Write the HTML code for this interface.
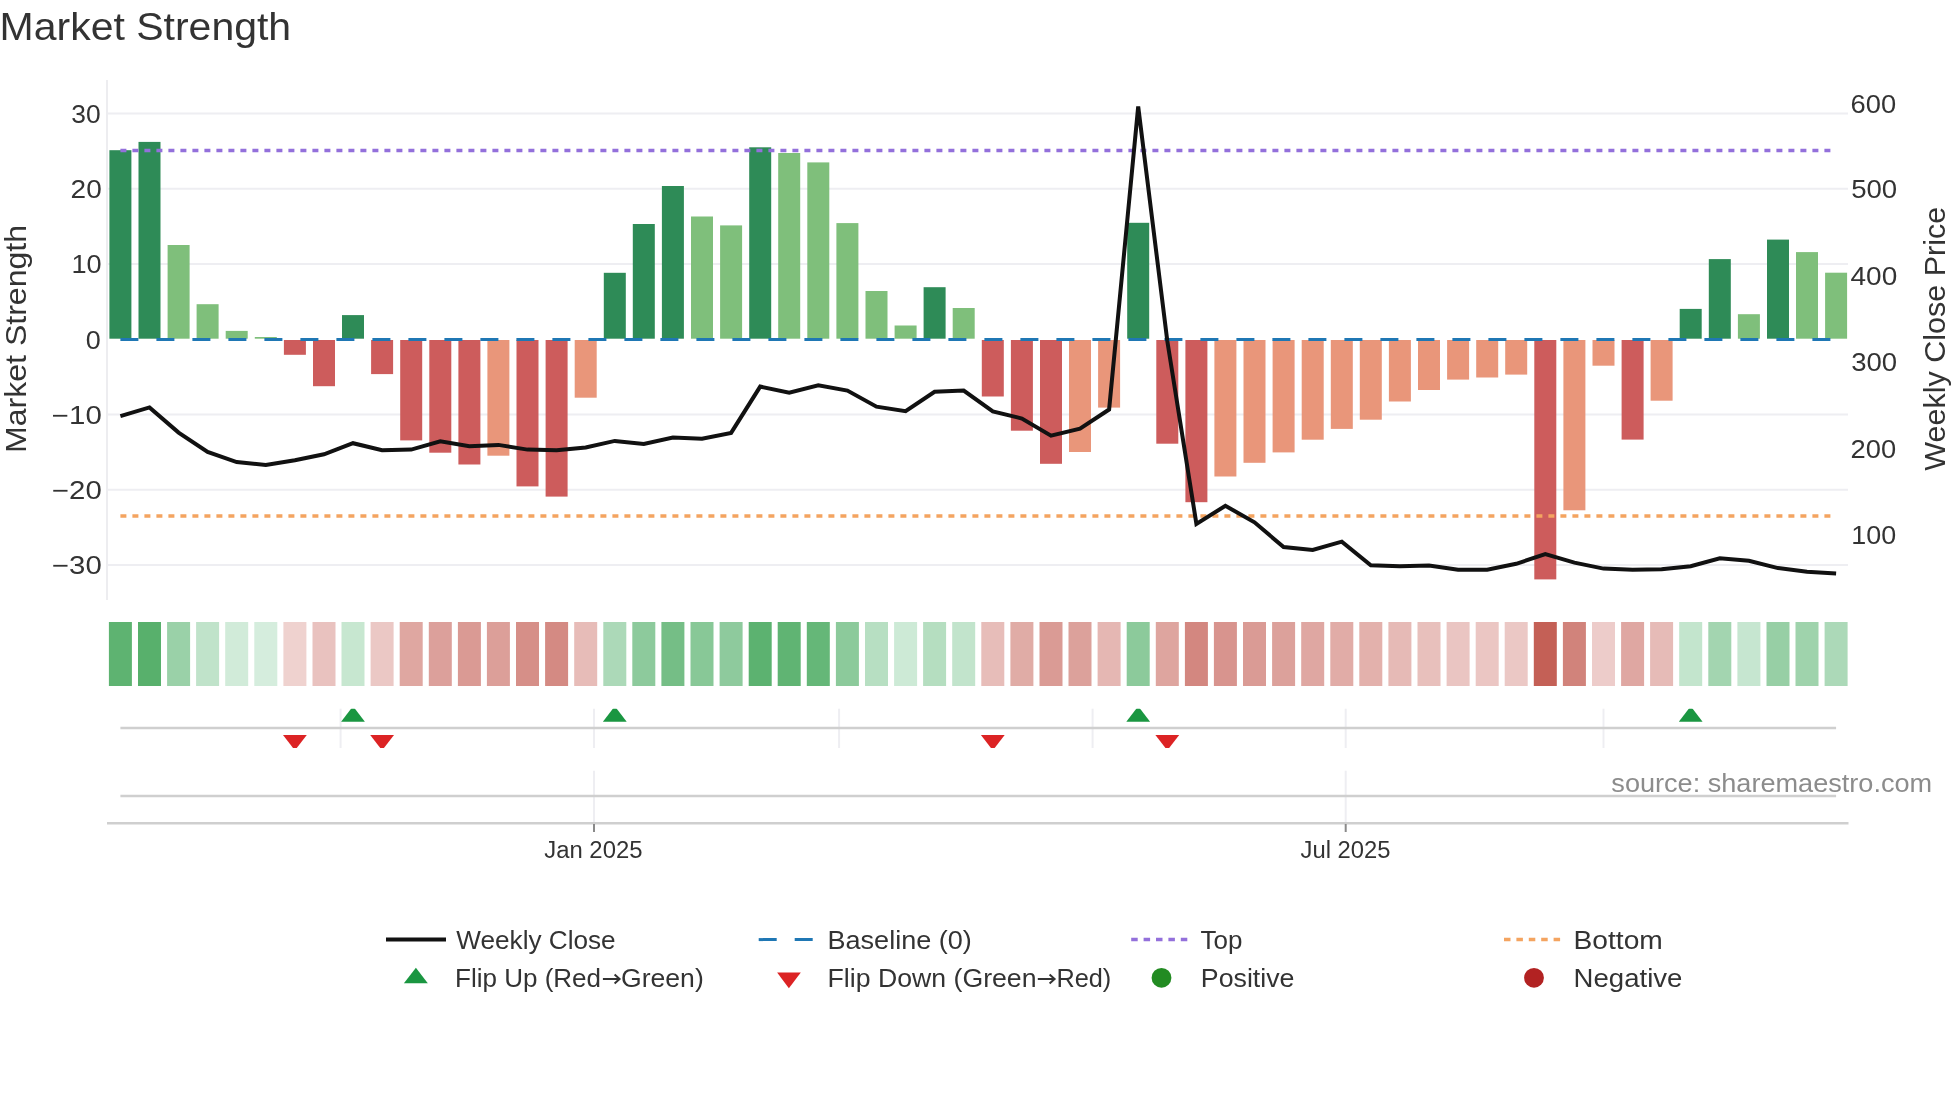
<!DOCTYPE html><html><head><meta charset="utf-8"><style>html,body{margin:0;padding:0;background:#fff;overflow:hidden}svg{display:block;will-change:transform}text{font-family:"Liberation Sans", sans-serif;fill:#333}</style></head><body>
<svg width="1960" height="1102" viewBox="0 0 1960 1102">
<rect x="0" y="0" width="1960" height="1102" fill="#fff"/>
<line x1="107" y1="113.6" x2="1848" y2="113.6" stroke="#eeeef2" stroke-width="2"/>
<line x1="107" y1="188.8" x2="1848" y2="188.8" stroke="#eeeef2" stroke-width="2"/>
<line x1="107" y1="264.1" x2="1848" y2="264.1" stroke="#eeeef2" stroke-width="2"/>
<line x1="107" y1="414.5" x2="1848" y2="414.5" stroke="#eeeef2" stroke-width="2"/>
<line x1="107" y1="489.8" x2="1848" y2="489.8" stroke="#eeeef2" stroke-width="2"/>
<line x1="107" y1="565.0" x2="1848" y2="565.0" stroke="#eeeef2" stroke-width="2"/>
<line x1="107" y1="80" x2="107" y2="600" stroke="#ededf0" stroke-width="2"/>
<rect x="109.4" y="150.2" width="22" height="188.5" fill="#2e8b57"/>
<rect x="138.5" y="141.9" width="22" height="196.8" fill="#2e8b57"/>
<rect x="167.6" y="245.0" width="22" height="93.7" fill="#7fbf7b"/>
<rect x="196.6" y="304.2" width="22" height="34.5" fill="#7fbf7b"/>
<rect x="225.7" y="330.9" width="22" height="7.8" fill="#7fbf7b"/>
<rect x="254.8" y="337.0" width="22" height="1.7" fill="#7fbf7b"/>
<rect x="283.9" y="340.0" width="22" height="14.8" fill="#cd5c5c"/>
<rect x="313.0" y="340.0" width="22" height="46.2" fill="#cd5c5c"/>
<rect x="342.0" y="315.1" width="22" height="23.6" fill="#2e8b57"/>
<rect x="371.1" y="340.0" width="22" height="34.1" fill="#cd5c5c"/>
<rect x="400.2" y="340.0" width="22" height="100.4" fill="#cd5c5c"/>
<rect x="429.3" y="340.0" width="22" height="112.7" fill="#cd5c5c"/>
<rect x="458.4" y="340.0" width="22" height="124.5" fill="#cd5c5c"/>
<rect x="487.4" y="340.0" width="22" height="115.7" fill="#e9967a"/>
<rect x="516.5" y="340.0" width="22" height="146.4" fill="#cd5c5c"/>
<rect x="545.6" y="340.0" width="22" height="156.6" fill="#cd5c5c"/>
<rect x="574.7" y="340.0" width="22" height="57.7" fill="#e9967a"/>
<rect x="603.8" y="272.8" width="22" height="65.9" fill="#2e8b57"/>
<rect x="632.8" y="224.0" width="22" height="114.7" fill="#2e8b57"/>
<rect x="661.9" y="186.0" width="22" height="152.7" fill="#2e8b57"/>
<rect x="691.0" y="216.5" width="22" height="122.2" fill="#7fbf7b"/>
<rect x="720.1" y="225.4" width="22" height="113.3" fill="#7fbf7b"/>
<rect x="749.2" y="147.3" width="22" height="191.4" fill="#2e8b57"/>
<rect x="778.2" y="153.0" width="22" height="185.7" fill="#7fbf7b"/>
<rect x="807.3" y="162.4" width="22" height="176.3" fill="#7fbf7b"/>
<rect x="836.4" y="223.1" width="22" height="115.6" fill="#7fbf7b"/>
<rect x="865.5" y="291.0" width="22" height="47.7" fill="#7fbf7b"/>
<rect x="894.6" y="325.5" width="22" height="13.2" fill="#7fbf7b"/>
<rect x="923.6" y="287.2" width="22" height="51.5" fill="#2e8b57"/>
<rect x="952.7" y="308.0" width="22" height="30.7" fill="#7fbf7b"/>
<rect x="981.8" y="340.0" width="22" height="56.5" fill="#cd5c5c"/>
<rect x="1010.9" y="340.0" width="22" height="90.7" fill="#cd5c5c"/>
<rect x="1040.0" y="340.0" width="22" height="123.8" fill="#cd5c5c"/>
<rect x="1069.0" y="340.0" width="22" height="112.0" fill="#e9967a"/>
<rect x="1098.1" y="340.0" width="22" height="67.6" fill="#e9967a"/>
<rect x="1127.2" y="222.8" width="22" height="115.9" fill="#2e8b57"/>
<rect x="1156.3" y="340.0" width="22" height="103.7" fill="#cd5c5c"/>
<rect x="1185.4" y="340.0" width="22" height="162.2" fill="#cd5c5c"/>
<rect x="1214.4" y="340.0" width="22" height="136.5" fill="#e9967a"/>
<rect x="1243.5" y="340.0" width="22" height="122.8" fill="#e9967a"/>
<rect x="1272.6" y="340.0" width="22" height="112.4" fill="#e9967a"/>
<rect x="1301.7" y="340.0" width="22" height="99.7" fill="#e9967a"/>
<rect x="1330.8" y="340.0" width="22" height="88.9" fill="#e9967a"/>
<rect x="1359.8" y="340.0" width="22" height="79.7" fill="#e9967a"/>
<rect x="1388.9" y="340.0" width="22" height="61.5" fill="#e9967a"/>
<rect x="1418.0" y="340.0" width="22" height="50.0" fill="#e9967a"/>
<rect x="1447.1" y="340.0" width="22" height="39.6" fill="#e9967a"/>
<rect x="1476.2" y="340.0" width="22" height="37.5" fill="#e9967a"/>
<rect x="1505.2" y="340.0" width="22" height="34.6" fill="#e9967a"/>
<rect x="1534.3" y="340.0" width="22" height="239.4" fill="#cd5c5c"/>
<rect x="1563.4" y="340.0" width="22" height="170.3" fill="#e9967a"/>
<rect x="1592.5" y="340.0" width="22" height="25.7" fill="#e9967a"/>
<rect x="1621.6" y="340.0" width="22" height="99.6" fill="#cd5c5c"/>
<rect x="1650.6" y="340.0" width="22" height="60.7" fill="#e9967a"/>
<rect x="1679.7" y="308.9" width="22" height="29.8" fill="#2e8b57"/>
<rect x="1708.8" y="259.1" width="22" height="79.6" fill="#2e8b57"/>
<rect x="1737.9" y="314.2" width="22" height="24.5" fill="#7fbf7b"/>
<rect x="1767.0" y="239.6" width="22" height="99.1" fill="#2e8b57"/>
<rect x="1796.0" y="252.1" width="22" height="86.6" fill="#7fbf7b"/>
<rect x="1825.1" y="272.7" width="22" height="66.0" fill="#7fbf7b"/>
<line x1="120.4" y1="339.5" x2="1836.1" y2="339.5" stroke="#1f77b4" stroke-width="3" stroke-dasharray="18,18"/>
<line x1="120.4" y1="150.4" x2="1836.1" y2="150.4" stroke="#9370db" stroke-width="3.5" stroke-dasharray="6,6"/>
<line x1="120.4" y1="515.9" x2="1836.1" y2="515.9" stroke="#f4a460" stroke-width="3.5" stroke-dasharray="6,6"/>
<polyline points="120.4,416.1 149.5,407.4 178.6,432.6 207.6,452.0 236.7,462.1 265.8,465.0 294.9,460.2 324.0,454.3 353.0,443.2 382.1,450.3 411.2,449.6 440.3,441.4 469.4,446.3 498.4,444.9 527.5,449.6 556.6,450.3 585.7,447.5 614.8,440.9 643.8,444.0 672.9,437.6 702.0,438.8 731.1,432.9 760.2,386.6 789.2,392.8 818.3,385.4 847.4,390.6 876.5,406.7 905.6,411.2 934.6,391.8 963.7,390.6 992.8,411.4 1021.9,418.5 1051.0,435.7 1080.0,428.6 1109.1,409.5 1138.2,106.5 1167.3,341.0 1196.4,523.9 1225.4,505.8 1254.5,522.3 1283.6,547.1 1312.7,549.9 1341.8,541.6 1370.8,565.2 1399.9,566.2 1429.0,565.5 1458.1,569.8 1487.2,569.8 1516.2,563.8 1545.3,554.2 1574.4,562.6 1603.5,568.6 1632.6,569.8 1661.6,569.3 1690.7,566.2 1719.8,558.3 1748.9,560.7 1778.0,568.1 1807.0,571.7 1836.1,573.4" fill="none" stroke="#111" stroke-width="4" stroke-linejoin="miter" stroke-miterlimit="4"/>
<rect x="108.9" y="622" width="23" height="64" fill="#5eb371"/>
<rect x="138.0" y="622" width="23" height="64" fill="#58b06c"/>
<rect x="167.1" y="622" width="23" height="64" fill="#9ad1a8"/>
<rect x="196.1" y="622" width="23" height="64" fill="#c0e3ca"/>
<rect x="225.2" y="622" width="23" height="64" fill="#d1ebd9"/>
<rect x="254.3" y="622" width="23" height="64" fill="#d5eddd"/>
<rect x="283.4" y="622" width="23" height="64" fill="#efd2cf"/>
<rect x="312.5" y="622" width="23" height="64" fill="#e9c2bf"/>
<rect x="341.5" y="622" width="23" height="64" fill="#c7e7d0"/>
<rect x="370.6" y="622" width="23" height="64" fill="#ebc8c5"/>
<rect x="399.7" y="622" width="23" height="64" fill="#dfa7a1"/>
<rect x="428.8" y="622" width="23" height="64" fill="#dca09b"/>
<rect x="457.9" y="622" width="23" height="64" fill="#da9a94"/>
<rect x="486.9" y="622" width="23" height="64" fill="#dc9f99"/>
<rect x="516.0" y="622" width="23" height="64" fill="#d68f88"/>
<rect x="545.1" y="622" width="23" height="64" fill="#d48a83"/>
<rect x="574.2" y="622" width="23" height="64" fill="#e7bcb8"/>
<rect x="603.3" y="622" width="23" height="64" fill="#acd9b8"/>
<rect x="632.3" y="622" width="23" height="64" fill="#8dca9c"/>
<rect x="661.4" y="622" width="23" height="64" fill="#75be86"/>
<rect x="690.5" y="622" width="23" height="64" fill="#88c897"/>
<rect x="719.6" y="622" width="23" height="64" fill="#8eca9d"/>
<rect x="748.7" y="622" width="23" height="64" fill="#5cb270"/>
<rect x="777.7" y="622" width="23" height="64" fill="#60b473"/>
<rect x="806.8" y="622" width="23" height="64" fill="#65b778"/>
<rect x="835.9" y="622" width="23" height="64" fill="#8cca9b"/>
<rect x="865.0" y="622" width="23" height="64" fill="#b7dfc2"/>
<rect x="894.1" y="622" width="23" height="64" fill="#cdead6"/>
<rect x="923.1" y="622" width="23" height="64" fill="#b5dec0"/>
<rect x="952.2" y="622" width="23" height="64" fill="#c2e4cc"/>
<rect x="981.3" y="622" width="23" height="64" fill="#e7bdb9"/>
<rect x="1010.4" y="622" width="23" height="64" fill="#e0aca6"/>
<rect x="1039.5" y="622" width="23" height="64" fill="#da9b95"/>
<rect x="1068.5" y="622" width="23" height="64" fill="#dca19b"/>
<rect x="1097.6" y="622" width="23" height="64" fill="#e5b7b3"/>
<rect x="1126.7" y="622" width="23" height="64" fill="#8cca9b"/>
<rect x="1155.8" y="622" width="23" height="64" fill="#dea59f"/>
<rect x="1184.9" y="622" width="23" height="64" fill="#d38780"/>
<rect x="1213.9" y="622" width="23" height="64" fill="#d8948e"/>
<rect x="1243.0" y="622" width="23" height="64" fill="#da9b95"/>
<rect x="1272.1" y="622" width="23" height="64" fill="#dca19b"/>
<rect x="1301.2" y="622" width="23" height="64" fill="#dfa7a2"/>
<rect x="1330.3" y="622" width="23" height="64" fill="#e1aca7"/>
<rect x="1359.3" y="622" width="23" height="64" fill="#e3b1ac"/>
<rect x="1388.4" y="622" width="23" height="64" fill="#e6bab6"/>
<rect x="1417.5" y="622" width="23" height="64" fill="#e8c0bc"/>
<rect x="1446.6" y="622" width="23" height="64" fill="#eac5c2"/>
<rect x="1475.7" y="622" width="23" height="64" fill="#ebc6c3"/>
<rect x="1504.7" y="622" width="23" height="64" fill="#ebc8c5"/>
<rect x="1533.8" y="622" width="23" height="64" fill="#c46056"/>
<rect x="1562.9" y="622" width="23" height="64" fill="#d1837b"/>
<rect x="1592.0" y="622" width="23" height="64" fill="#edccca"/>
<rect x="1621.1" y="622" width="23" height="64" fill="#dfa7a2"/>
<rect x="1650.1" y="622" width="23" height="64" fill="#e6bbb7"/>
<rect x="1679.2" y="622" width="23" height="64" fill="#c3e5cd"/>
<rect x="1708.3" y="622" width="23" height="64" fill="#a3d5b0"/>
<rect x="1737.4" y="622" width="23" height="64" fill="#c6e6d0"/>
<rect x="1766.5" y="622" width="23" height="64" fill="#97cfa5"/>
<rect x="1795.5" y="622" width="23" height="64" fill="#9fd3ac"/>
<rect x="1824.6" y="622" width="23" height="64" fill="#acd9b8"/>
<defs><clipPath id="c3"><rect x="107" y="708.7" width="1741" height="39.3"/></clipPath></defs>
<line x1="340.6" y1="708.7" x2="340.6" y2="748" stroke="#eeeef2" stroke-width="2"/>
<line x1="594.0" y1="708.7" x2="594.0" y2="748" stroke="#eeeef2" stroke-width="2"/>
<line x1="839.1" y1="708.7" x2="839.1" y2="748" stroke="#eeeef2" stroke-width="2"/>
<line x1="1092.6" y1="708.7" x2="1092.6" y2="748" stroke="#eeeef2" stroke-width="2"/>
<line x1="1345.7" y1="708.7" x2="1345.7" y2="748" stroke="#eeeef2" stroke-width="2"/>
<line x1="1603.5" y1="708.7" x2="1603.5" y2="748" stroke="#eeeef2" stroke-width="2"/>
<line x1="120.4" y1="728.1" x2="1836.1" y2="728.1" stroke="#cfcfcf" stroke-width="2.5"/>
<g clip-path="url(#c3)">
<path d="M341.1,721.7 L364.9,721.7 L353.0,706.2 Z" fill="#1a9641"/>
<path d="M602.9,721.7 L626.7,721.7 L614.8,706.2 Z" fill="#1a9641"/>
<path d="M1126.3,721.7 L1150.1,721.7 L1138.2,706.2 Z" fill="#1a9641"/>
<path d="M1678.8,721.7 L1702.6,721.7 L1690.7,706.2 Z" fill="#1a9641"/>
<path d="M283.0,734.9 L306.8,734.9 L294.9,750.4 Z" fill="#dc2324"/>
<path d="M370.2,734.9 L394.0,734.9 L382.1,750.4 Z" fill="#dc2324"/>
<path d="M980.9,734.9 L1004.7,734.9 L992.8,750.4 Z" fill="#dc2324"/>
<path d="M1155.4,734.9 L1179.2,734.9 L1167.3,750.4 Z" fill="#dc2324"/>
</g>
<line x1="594.0" y1="770.7" x2="594.0" y2="822" stroke="#eeeef2" stroke-width="2"/>
<line x1="1345.7" y1="770.7" x2="1345.7" y2="822" stroke="#eeeef2" stroke-width="2"/>
<line x1="120.4" y1="796.1" x2="1836.1" y2="796.1" stroke="#cfcfcf" stroke-width="2.5"/>
<line x1="107" y1="823.2" x2="1848.5" y2="823.2" stroke="#cfcfcf" stroke-width="2.5"/>
<line x1="594.0" y1="824" x2="594.0" y2="832" stroke="#8a8a8a" stroke-width="2"/>
<line x1="1345.7" y1="824" x2="1345.7" y2="832" stroke="#8a8a8a" stroke-width="2"/>
<line x1="386" y1="939.6" x2="446" y2="939.6" stroke="#111" stroke-width="4"/>
<line x1="758.7" y1="939.6" x2="818.7" y2="939.6" stroke="#1f77b4" stroke-width="3" stroke-dasharray="18,18"/>
<line x1="1131.2" y1="939.6" x2="1191.2" y2="939.6" stroke="#9370db" stroke-width="3.5" stroke-dasharray="6.5,5.9"/>
<line x1="1504" y1="939.6" x2="1564" y2="939.6" stroke="#f4a460" stroke-width="3.5" stroke-dasharray="6.5,5.9"/>
<path d="M403.9,983.2 L427.8,983.2 L415.9,967.7 Z" fill="#1a9641"/>
<path d="M777.1,972.6 L800.8,972.6 L788.9,988.3 Z" fill="#dc2324"/>
<circle cx="1161.5" cy="977.8" r="9.9" fill="#228b22"/>
<circle cx="1534" cy="977.8" r="9.9" fill="#b22222"/>
<text x="-0.47" y="40.10" font-size="38.15" textLength="291.64" lengthAdjust="spacingAndGlyphs">Market Strength</text>
<text x="71.32" y="123.01" font-size="25.43" textLength="29.35" lengthAdjust="spacingAndGlyphs">30</text>
<text x="70.59" y="198.24" font-size="25.43" textLength="31.13" lengthAdjust="spacingAndGlyphs">20</text>
<text x="71.48" y="273.47" font-size="25.43" textLength="30.20" lengthAdjust="spacingAndGlyphs">10</text>
<text x="85.75" y="348.70" font-size="25.43" textLength="15.00" lengthAdjust="spacingAndGlyphs">0</text>
<text x="51.83" y="423.93" font-size="25.43" textLength="49.93" lengthAdjust="spacingAndGlyphs">−10</text>
<text x="51.93" y="499.16" font-size="25.43" textLength="49.83" lengthAdjust="spacingAndGlyphs">−20</text>
<text x="51.93" y="574.39" font-size="25.43" textLength="49.83" lengthAdjust="spacingAndGlyphs">−30</text>
<text x="1850.61" y="112.70" font-size="25.43" textLength="45.58" lengthAdjust="spacingAndGlyphs">600</text>
<text x="1851.18" y="197.90" font-size="25.43" textLength="46.02" lengthAdjust="spacingAndGlyphs">500</text>
<text x="1850.51" y="285.40" font-size="25.43" textLength="46.74" lengthAdjust="spacingAndGlyphs">400</text>
<text x="1851.24" y="370.80" font-size="25.43" textLength="45.96" lengthAdjust="spacingAndGlyphs">300</text>
<text x="1850.63" y="458.40" font-size="25.43" textLength="45.57" lengthAdjust="spacingAndGlyphs">200</text>
<text x="1851.33" y="544.00" font-size="25.43" textLength="44.86" lengthAdjust="spacingAndGlyphs">100</text>
<text transform="translate(26.00,0) rotate(-90)" x="-453.03" y="0" font-size="29.67" textLength="228.12" lengthAdjust="spacingAndGlyphs">Market Strength</text>
<text transform="translate(1945.00,0) rotate(-90)" x="-470.84" y="0" font-size="29.67" textLength="264.10" lengthAdjust="spacingAndGlyphs">Weekly Close Price</text>
<text x="544.21" y="857.90" font-size="23.31" textLength="98.32" lengthAdjust="spacingAndGlyphs">Jan 2025</text>
<text x="1300.51" y="858.10" font-size="23.31" textLength="90.00" lengthAdjust="spacingAndGlyphs">Jul 2025</text>
<text x="1611.34" y="791.70" font-size="25.43" textLength="320.85" lengthAdjust="spacingAndGlyphs" style="fill:#8c8c8c">source: sharemaestro.com</text>
<text x="456.27" y="949.00" font-size="25.43" textLength="159.39" lengthAdjust="spacingAndGlyphs">Weekly Close</text>
<text x="827.47" y="949.00" font-size="25.43" textLength="144.42" lengthAdjust="spacingAndGlyphs">Baseline (0)</text>
<text x="1200.45" y="949.00" font-size="25.43" textLength="41.90" lengthAdjust="spacingAndGlyphs">Top</text>
<text x="1573.57" y="949.00" font-size="25.43" textLength="89.29" lengthAdjust="spacingAndGlyphs">Bottom</text>
<text x="455.06" y="986.90" font-size="25.43" textLength="146.02" lengthAdjust="spacingAndGlyphs">Flip Up (Red</text>
<text x="621.05" y="986.90" font-size="25.43" textLength="82.71" lengthAdjust="spacingAndGlyphs">Green)</text>
<text x="827.51" y="986.90" font-size="25.43" textLength="209.03" lengthAdjust="spacingAndGlyphs">Flip Down (Green</text>
<text x="1056.40" y="986.90" font-size="25.43" textLength="54.88" lengthAdjust="spacingAndGlyphs">Red)</text>
<text x="1200.81" y="986.90" font-size="25.43" textLength="93.69" lengthAdjust="spacingAndGlyphs">Positive</text>
<text x="1573.63" y="986.90" font-size="25.43" textLength="108.82" lengthAdjust="spacingAndGlyphs">Negative</text>
<path d="M602.9,978.9 H619.4 M614.6,974.4 L619.6,978.9 L614.6,983.4" fill="none" stroke="#333" stroke-width="2"/>
<path d="M1037.8,978.9 H1054.4 M1049.6,974.4 L1054.6,978.9 L1049.6,983.4" fill="none" stroke="#333" stroke-width="2"/>
</svg></body></html>
